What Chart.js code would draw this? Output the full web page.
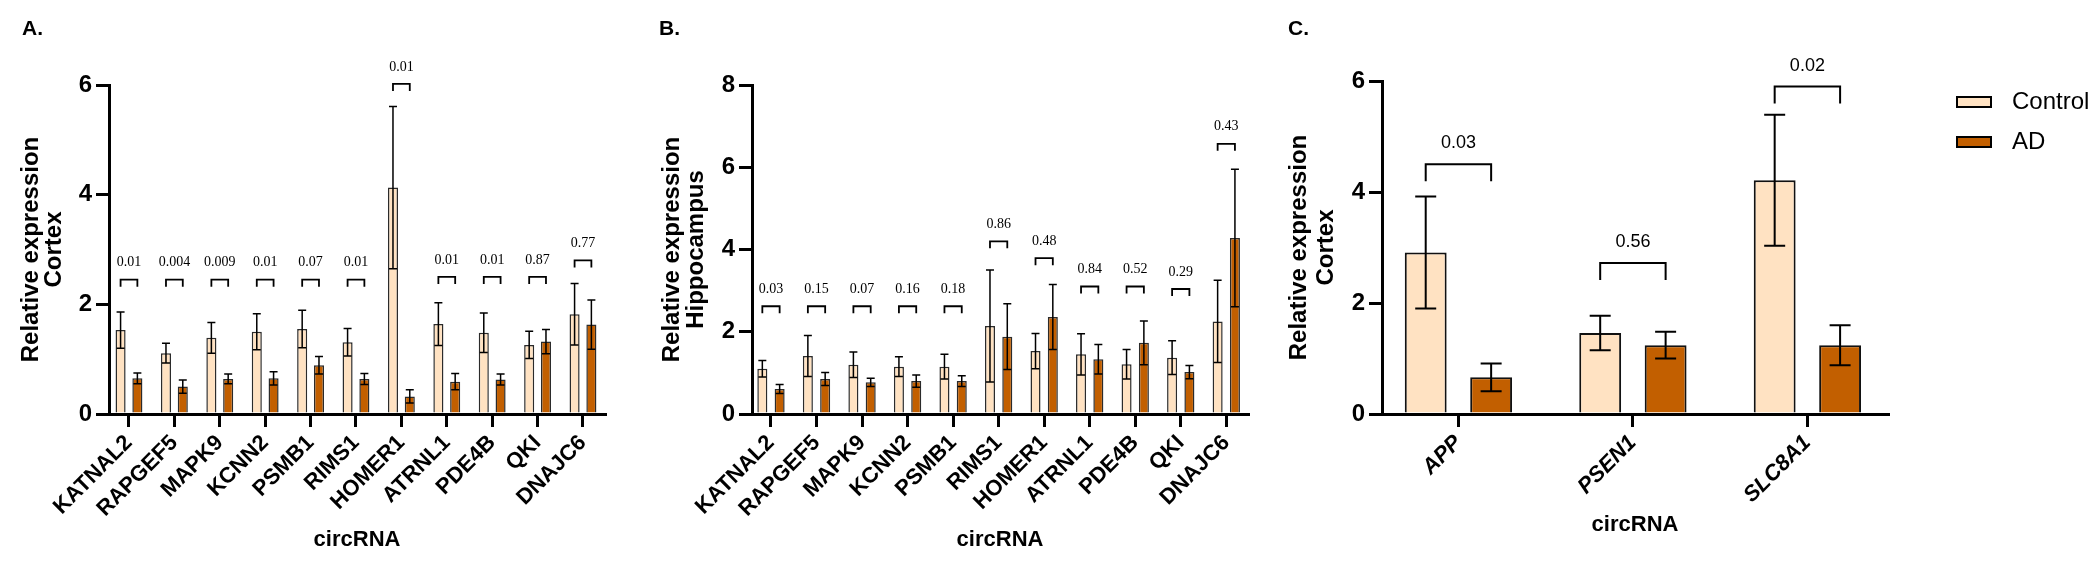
<!DOCTYPE html>
<html>
<head>
<meta charset="utf-8">
<script src="https://cdn.jsdelivr.net/npm/chart.js@4.4.1/dist/chart.umd.min.js"></script>
<style>
  html, body { margin: 0; padding: 0; background: #fff; }
  #wrap { position: relative; width: 2100px; height: 567px; overflow: hidden; }
  canvas { position: absolute; top: 0; }
</style>
</head>
<body>
<div id="wrap">
  <canvas id="chartA" width="650" height="567" style="left:0px"></canvas>
  <canvas id="chartB" width="610" height="567" style="left:650px"></canvas>
  <canvas id="chartC" width="840" height="567" style="left:1260px"></canvas>
</div>
<script>
// ---- data ----
const genes = ['KATNAL2', 'RAPGEF5', 'MAPK9', 'KCNN2', 'PSMB1', 'RIMS1', 'HOMER1', 'ATRNL1', 'PDE4B', 'QKI', 'DNAJC6'];

// A. cortex
const ctrlCortex    = [1.53, 1.11, 1.39, 1.50, 1.55, 1.31, 4.13, 1.64, 1.48, 1.26, 1.82];
const ctrlCortexErr = [0.33, 0.18, 0.28, 0.33, 0.34, 0.25, 1.48, 0.39, 0.36, 0.25, 0.56];
const adCortex      = [0.65, 0.50, 0.64, 0.65, 0.89, 0.64, 0.32, 0.59, 0.63, 1.32, 1.63];
const adCortexErr   = [0.10, 0.12, 0.09, 0.12, 0.16, 0.10, 0.12, 0.15, 0.10, 0.22, 0.45];
const pCortex       = ['0.01', '0.004', '0.009', '0.01', '0.07', '0.01', '0.01', '0.01', '0.01', '0.87', '0.77'];
const bracketCortex = [2.45, 2.45, 2.45, 2.45, 2.45, 2.45, 6.02, 2.5, 2.5, 2.5, 2.8];

// B. hippocampus
const ctrlHippo    = [1.10, 1.41, 1.20, 1.15, 1.15, 2.14, 1.53, 1.45, 1.21, 1.37, 2.25];
const ctrlHippoErr = [0.20, 0.50, 0.31, 0.24, 0.30, 1.36, 0.43, 0.50, 0.36, 0.41, 1.00];
const adHippo      = [0.61, 0.85, 0.77, 0.80, 0.80, 1.88, 2.36, 1.33, 1.73, 1.02, 4.28];
const adHippoErr   = [0.11, 0.16, 0.10, 0.15, 0.13, 0.80, 0.79, 0.36, 0.53, 0.16, 1.67];
const pHippo       = ['0.03', '0.15', '0.07', '0.16', '0.18', '0.86', '0.48', '0.84', '0.52', '0.29', '0.43'];
const bracketHippo = [2.62, 2.62, 2.62, 2.62, 2.62, 4.2, 3.79, 3.1, 3.1, 3.04, 6.57];

// C. parental genes, cortex
const parentGenes   = ['APP', 'PSEN1', 'SLC8A1'];
const ctrlParent    = [2.91, 1.46, 4.21];
const ctrlParentErr = [1.01, 0.31, 1.18];
const adParent      = [0.66, 1.24, 1.24];
const adParentErr   = [0.25, 0.24, 0.36];
const pParent       = ['0.03', '0.56', '0.02'];
const bracketParent = [4.5, 2.72, 5.9];

const CONTROL_COLOR = '#ffe2c2';
const AD_COLOR = '#c25f00';
const SANS = '"Liberation Sans", Arial, sans-serif';
const SERIF = '"Liberation Serif", "Times New Roman", serif';

const panels = {
    chartA: {letter: 'A.', letterX: 22, p: pCortex, levels: bracketCortex},
    chartB: {letter: 'B.', letterX: 9, p: pHippo, levels: bracketHippo},
    chartC: {letter: 'C.', letterX: 28, p: pParent, levels: bracketParent, legend: true}
};

// error bars, brackets with p values, panel letter, legend
const decoPlugin = {
    id: 'deco',
    afterDatasetsDraw(chart, args, opts) {
        const ctx = chart.ctx;
        const y = chart.scales.y;
        const panel = panels[chart.canvas.id];
        ctx.save();
        ctx.strokeStyle = '#000';
        chart.data.datasets.forEach((ds, di) => {
            const meta = chart.getDatasetMeta(di);
            meta.data.forEach((bar, i) => {
                const top = y.getPixelForValue(ds.data[i] + ds.errorBars[i]);
                const bot = y.getPixelForValue(ds.data[i] - ds.errorBars[i]);
                ctx.lineWidth = opts.errWidth;
                ctx.beginPath();
                ctx.moveTo(bar.x, top); ctx.lineTo(bar.x, bot);
                ctx.moveTo(bar.x - opts.cap, top); ctx.lineTo(bar.x + opts.cap, top);
                ctx.moveTo(bar.x - opts.cap, bot); ctx.lineTo(bar.x + opts.cap, bot);
                ctx.stroke();
            });
        });

        const m0 = chart.getDatasetMeta(0), m1 = chart.getDatasetMeta(1);
        ctx.fillStyle = '#000';
        ctx.font = opts.pFont;
        ctx.textAlign = 'center';
        ctx.textBaseline = 'middle';
        panel.p.forEach((txt, i) => {
            const x0 = m0.data[i].x, x1 = m1.data[i].x;
            const by = y.getPixelForValue(panel.levels[i]);
            ctx.lineWidth = opts.bracketWidth;
            ctx.beginPath();
            ctx.moveTo(x0, by + opts.drop);
            ctx.lineTo(x0, by);
            ctx.lineTo(x1, by);
            ctx.lineTo(x1, by + opts.drop);
            ctx.stroke();
            ctx.fillText(txt, (x0 + x1) / 2, by - opts.textGap);
        });
        ctx.restore();
    },
    afterDraw(chart) {
        const ctx = chart.ctx;
        const panel = panels[chart.canvas.id];
        ctx.save();
        ctx.fillStyle = '#000';
        ctx.font = 'bold 21px ' + SANS;
        ctx.textAlign = 'left';
        ctx.textBaseline = 'alphabetic';
        ctx.fillText(panel.letter, panel.letterX, 35);

        if (panel.legend) {
            ctx.font = '24px ' + SANS;
            ctx.textBaseline = 'middle';
            chart.data.datasets.forEach((ds, i) => {
                const top = 97 + i * 40;
                ctx.fillStyle = ds.backgroundColor;
                ctx.fillRect(697, top, 34, 10);
                ctx.lineWidth = 2;
                ctx.strokeStyle = '#000';
                ctx.strokeRect(697, top, 34, 10);
                ctx.fillStyle = '#000';
                ctx.fillText(ds.label, 752, top + 5);
            });
        }
        ctx.restore();
    }
};

function makeChart(id, cfg) {
    return new Chart(document.getElementById(id), {
        type: 'bar',
        data: {
            labels: cfg.labels,
            datasets: [{
                label: 'Control',
                data: cfg.ctrl,
                errorBars: cfg.ctrlErr,
                backgroundColor: CONTROL_COLOR,
                borderColor: cfg.edge,
                borderWidth: cfg.edgeWidth,
                categoryPercentage: cfg.catPct,
                barPercentage: cfg.barPct
            }, {
                label: 'AD',
                data: cfg.ad,
                errorBars: cfg.adErr,
                backgroundColor: AD_COLOR,
                borderColor: cfg.edge,
                borderWidth: cfg.edgeWidth,
                categoryPercentage: cfg.catPct,
                barPercentage: cfg.barPct
            }]
        },
        options: {
            responsive: false,
            animation: false,
            events: [],
            layout: {padding: {top: cfg.top, right: cfg.right, left: 0, bottom: 0}},
            plugins: {
                legend: {display: false},
                tooltip: {enabled: false},
                deco: cfg.deco
            },
            scales: {
                x: {
                    z: 1,
                    afterBuildTicks: s => { s._startValue = cfg.xStart; s._valueRange = cfg.xRange; },
                    afterFit: s => { s.height = 153; },
                    border: {display: true, width: 3, color: '#000'},
                    grid: {drawOnChartArea: false, drawTicks: true, tickLength: 13, lineWidth: 3, color: '#000', offset: false},
                    ticks: {
                        color: '#000',
                        autoSkip: false,
                        minRotation: 45,
                        maxRotation: 45,
                        padding: 3,
                        font: {family: SANS, size: 22, weight: 'bold', style: cfg.italic ? 'italic' : 'normal'}
                    },
                    title: {
                        display: true,
                        text: 'circRNA',
                        color: '#000',
                        font: {family: SANS, size: 22, weight: 'bold', lineHeight: 1},
                        padding: {top: 0, bottom: cfg.xTitlePad}
                    }
                },
                y: {
                    z: 1,
                    min: 0,
                    max: cfg.yMax,
                    afterFit: s => { s.width = cfg.yWidth; },
                    border: {display: true, width: 3, color: '#000'},
                    grid: {drawOnChartArea: false, drawTicks: true, tickLength: 13, lineWidth: 3, color: '#000'},
                    ticks: {
                        stepSize: 2,
                        color: '#000',
                        padding: 4,
                        font: {family: SANS, size: 24, weight: 'bold'}
                    },
                    title: {
                        display: true,
                        text: ['Relative expression', cfg.region],
                        color: '#000',
                        font: {family: SANS, size: 24, weight: 'bold', lineHeight: cfg.titleLh},
                        padding: {top: cfg.yTitlePad, bottom: 0}
                    }
                }
            }
        },
        plugins: [decoPlugin]
    });
}

const smallDeco = {errWidth: 1.5, cap: 4, bracketWidth: 1.8, drop: 7, textGap: 17, pFont: '14px ' + SERIF};

makeChart('chartA', {
    labels: genes, ctrl: ctrlCortex, ctrlErr: ctrlCortexErr, ad: adCortex, adErr: adCortexErr,
    region: 'Cortex', yMax: 6, top: 85, right: 45, yWidth: 109, yTitlePad: 20, titleLh: '23px',
    xStart: -0.44, xRange: 10.925, xTitlePad: 16, catPct: 0.74, barPct: 0.6,
    edge: '#2b2b2b', edgeWidth: 1.5, italic: false, deco: smallDeco
});

makeChart('chartB', {
    labels: genes, ctrl: ctrlHippo, ctrlErr: ctrlHippoErr, ad: adHippo, adErr: adHippoErr,
    region: 'Hippocampus', yMax: 8, top: 85, right: 12, yWidth: 102, yTitlePad: 10, titleLh: '24px',
    xStart: -0.417, xRange: 10.894, xTitlePad: 16, catPct: 0.76, barPct: 0.58,
    edge: '#2b2b2b', edgeWidth: 1.5, italic: false, deco: smallDeco
});

makeChart('chartC', {
    labels: parentGenes, ctrl: ctrlParent, ctrlErr: ctrlParentErr, ad: adParent, adErr: adParentErr,
    region: 'Cortex', yMax: 6, top: 81, right: 212, yWidth: 122, yTitlePad: 26, titleLh: '27px',
    xStart: -0.438, xRange: 2.9, xTitlePad: 31, catPct: 0.75, barPct: 0.64,
    edge: '#111', edgeWidth: 2, italic: true,
    deco: {errWidth: 2, cap: 10.5, bracketWidth: 2, drop: 17, textGap: 21, pFont: '18px ' + SANS}
});
</script>
</body>
</html>
